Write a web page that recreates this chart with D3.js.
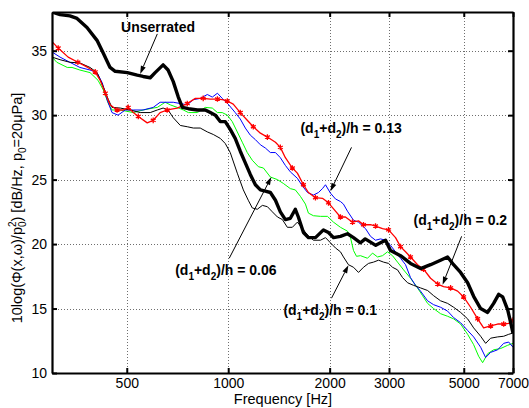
<!DOCTYPE html>
<html><head><meta charset="utf-8">
<script src="https://cdn.jsdelivr.net/npm/d3@7"></script>
<style>
body{margin:0;background:#fff;}
svg{display:block;font-family:"Liberation Sans",Arial,Helvetica,sans-serif;}
</style></head><body>
<svg id="chart" width="529" height="408"></svg>
<script>
// Axis ticks
const xTicks = [500, 1000, 2000, 3000, 5000, 7000];
const yTicks = [10, 15, 20, 25, 30, 35];

// Wall-pressure spectra, [frequency Hz, dB/Hz]
const unserrated = [[300,38.0],[317,37.8],[339,37.7],[356,37.5],[381,36.8],[408,35.8],[426,34.8],[446,33.7],[462,33.4],[502,33.3],[537,33.1],[559,33.0],[587,32.9],[607,33.3],[641,33.9],[663,33.5],[687,32.6],[711,31.4],[731,30.6],[762,30.5],[810,30.4],[855,30.4],[885,30.2],[916,30.0],[947,29.5],[980,29.5],[1014,28.9],[1049,28.2],[1086,27.2],[1124,26.3],[1163,25.4],[1204,24.6],[1246,24.2],[1289,24.1],[1334,24.0],[1381,23.4],[1428,22.5],[1478,21.9],[1529,22.0],[1582,22.7],[1615,22.1],[1672,20.9],[1730,20.5],[1815,20.5],[1917,21.1],[1984,20.9],[2053,20.5],[2153,20.6],[2259,20.8],[2354,20.5],[2469,20.1],[2550,20.4],[2644,20.15],[2740,19.9],[2831,20.1],[2930,20.3],[3031,19.5],[3246,19.1],[3475,18.5],[3722,18.1],[3985,18.4],[4267,18.75],[4477,19.0],[4665,18.4],[4893,17.8],[5134,17.0],[5349,15.95],[5611,15.0],[5887,14.7],[6133,15.4],[6347,16.1],[6523,15.9],[6751,14.9],[6890,13.9],[7000,13.1]];

const ratio006 = [[300,34.5],[310,34.1],[333,33.7],[344,33.7],[363,33.5],[389,33.3],[411,32.7],[426,31.95],[441,30.9],[452,30.4],[478,30.4],[523,30.2],[559,30.4],[599,30.55],[616,30.6],[650,31.0],[673,30.8],[706,30.6],[736,30.4],[762,30.2],[810,30.2],[855,30.6],[897,30.55],[929,30.2],[960,30.2],[994,30.0],[1028,29.5],[1064,28.7],[1101,27.9],[1139,27.1],[1179,26.5],[1229,26.0],[1272,25.9],[1334,25.2],[1400,25.0],[1458,24.7],[1529,24.3],[1582,24.2],[1638,23.7],[1695,23.1],[1730,22.4],[1790,22.2],[1878,22.15],[1970,22.15],[2053,21.7],[2153,21.3],[2259,21.0],[2306,20.5],[2354,19.5],[2403,19.05],[2469,19.1],[2590,18.9],[2681,19.3],[2774,19.0],[2870,19.1],[2970,19.4],[3073,19.1],[3180,18.6],[3314,18.0],[3475,17.35],[3646,16.6],[3773,16.0],[3905,15.4],[4068,15.0],[4267,14.6],[4477,14.4],[4665,14.2],[4893,13.8],[5134,13.0],[5349,12.2],[5535,11.3],[5688,10.8],[5887,11.5],[6133,11.8],[6434,11.9],[6751,12.15],[7000,12.3]];

const ratio01 = [[300,34.5],[317,34.3],[339,34.1],[363,34.05],[389,33.7],[408,33.3],[426,32.2],[441,31.2],[452,30.6],[478,30.55],[512,30.4],[548,30.2],[587,30.2],[616,30.4],[641,30.55],[663,30.4],[687,29.8],[721,29.2],[756,29.1],[788,29.0],[826,29.0],[867,28.7],[903,28.5],[947,28.2],[980,27.8],[1014,27.1],[1064,25.5],[1109,24.2],[1147,23.4],[1179,22.8],[1220,22.7],[1263,23.0],[1307,22.9],[1352,22.5],[1400,22.1],[1448,21.9],[1498,21.3],[1550,21.3],[1604,21.7],[1661,21.2],[1719,20.7],[1790,20.3],[1878,20.3],[1944,20.5],[2011,20.1],[2081,19.7],[2153,19.4],[2198,19.0],[2274,18.4],[2354,18.2],[2436,17.8],[2520,18.2],[2608,18.5],[2699,18.6],[2793,18.75],[2890,18.6],[2991,18.5],[3073,18.2],[3180,18.0],[3291,17.4],[3406,17.0],[3547,16.8],[3722,16.6],[3905,16.4],[4068,16.0],[4267,15.6],[4477,15.4],[4665,15.1],[4893,14.7],[5134,14.2],[5349,13.5],[5611,12.85],[5807,12.3],[6008,12.7],[6304,12.8],[6568,12.85],[6797,13.0],[7000,13.1]];

const ratio013 = [[300,34.9],[317,34.5],[339,34.1],[363,33.7],[389,33.5],[408,33.3],[423,32.5],[437,31.2],[452,30.2],[471,30.0],[495,30.4],[523,30.4],[559,30.4],[599,30.6],[628,31.0],[687,31.0],[721,30.9],[756,30.8],[788,31.2],[826,31.3],[867,31.6],[897,31.4],[929,31.7],[960,31.3],[1000,30.85],[1049,30.2],[1086,29.7],[1124,29.0],[1163,28.45],[1204,28.1],[1246,27.7],[1289,27.45],[1334,27.1],[1381,27.1],[1428,26.7],[1478,26.1],[1529,25.6],[1604,25.1],[1661,24.5],[1719,24.0],[1790,23.8],[1853,24.0],[1904,24.3],[1944,24.6],[2011,23.95],[2081,23.5],[2153,23.3],[2198,23.1],[2259,22.55],[2354,21.85],[2436,21.7],[2555,21.2],[2644,20.6],[2736,20.3],[2831,20.4],[2930,20.3],[3031,19.9],[3137,19.4],[3246,18.9],[3359,18.4],[3475,17.4],[3596,16.8],[3722,16.35],[3905,15.6],[4068,15.3],[4267,15.1],[4477,14.8],[4665,14.3],[4893,13.9],[5134,13.3],[5349,12.8],[5611,12.0],[5807,11.2],[6008,11.6],[6304,11.8],[6568,12.3],[6797,12.4],[7000,12.0]];

const ratio02 = [[300,35.7],[313,35.2],[335,34.5],[358,34.1],[383,33.7],[403,33.35],[417,32.7],[432,31.7],[446,30.8],[468,30.4],[488,30.4],[505,30.6],[523,30.2],[541,29.9],[575,29.4],[599,29.6],[628,30.2],[659,30.4],[706,30.55],[756,30.9],[799,31.3],[843,31.3],[885,31.25],[929,31.25],[960,31.2],[994,31.1],[1035,30.85],[1086,30.2],[1139,29.6],[1187,29.1],[1246,28.6],[1307,28.3],[1381,27.9],[1428,27.5],[1478,26.7],[1550,25.9],[1604,25.5],[1672,24.6],[1730,24.0],[1815,23.6],[1904,23.55],[1984,23.2],[2081,22.55],[2153,22.1],[2228,22.1],[2338,21.7],[2436,21.8],[2520,21.5],[2644,21.5],[2736,21.4],[2870,21.2],[2991,21.1],[3137,20.5],[3246,19.8],[3359,19.4],[3475,19.0],[3646,18.4],[3799,18.05],[3985,17.35],[4181,16.9],[4356,16.7],[4570,16.6],[4795,16.35],[4995,15.9],[5240,15.1],[5498,14.2],[5728,13.5],[6008,13.65],[6304,13.8],[6568,13.8],[6797,13.85],[7000,14.1]];

// Line styles, drawn back to front
const series = [
  {values: ratio006, color: "#00ff00", width: 1},
  {values: ratio013, color: "#0000ff", width: 1},
  {values: ratio01, color: "#000000", width: 1},
  {values: ratio02, color: "#ff0000", width: 1.3, markers: true},
  {values: unserrated, color: "#000000", width: 3.4}
];

// Callouts: label anchor, arrow tail and arrow tip in data units
const callouts = [
  {parts: [["Unserrated"]], at: [481, 36.45], tail: [616, 36.3], tip: [548, 33.2]},
  {parts: [["(d"], ["1", "sub"], ["+d"], ["2", "sub"], [")/h = 0.13"]], at: [1638, 28.6], tail: [2322, 27.5], tip: [2011, 24.1]},
  {parts: [["(d"], ["1", "sub"], ["+d"], ["2", "sub"], [")/h = 0.2"]], at: [3547, 21.47], tail: [4927, 20.6], tip: [4326, 16.85]},
  {parts: [["(d"], ["1", "sub"], ["+d"], ["2", "sub"], [")/h = 0.06"]], at: [696, 17.59], tail: [1007, 18.9], tip: [1343, 25.2]},
  {parts: [["(d"], ["1", "sub"], ["+d"], ["2", "sub"], [")/h = 0.1"]], at: [1458, 14.48], tail: [2025, 15.8], tip: [2274, 18.36]}
];

const W = 529, H = 408;
const m = {left: 52, right: 16, top: 12, bottom: 35};
const svg = d3.select("#chart");

const x = d3.scaleLog().domain([300, 7000]).range([m.left, W - m.right]);
const y = d3.scaleLinear().domain([10, 38]).range([H - m.bottom, m.top]);

svg.append("defs").append("clipPath").attr("id", "plotClip")
  .append("rect").attr("x", m.left).attr("y", m.top)
  .attr("width", W - m.left - m.right).attr("height", H - m.top - m.bottom);

// Dotted grid
const grid = svg.append("g").attr("stroke", "#6e6e6e").attr("stroke-width", 1).attr("stroke-dasharray", "1,2");
grid.selectAll("line.vx").data(xTicks.filter(d => d < 7000)).join("line")
  .attr("x1", d => Math.round(x(d)) + 0.5).attr("x2", d => Math.round(x(d)) + 0.5)
  .attr("y1", m.top).attr("y2", H - m.bottom);
grid.selectAll("line.hy").data(yTicks.filter(d => d > 10)).join("line")
  .attr("y1", d => Math.round(y(d)) + 0.5).attr("y2", d => Math.round(y(d)) + 0.5)
  .attr("x1", m.left).attr("x2", W - m.right);

// Spectra
const line = d3.line().x(d => x(d[0])).y(d => y(d[1]));
const plot = svg.append("g").attr("clip-path", "url(#plotClip)");
series.forEach(s => {
  plot.append("path").datum(s.values)
    .attr("fill", "none").attr("stroke", s.color).attr("stroke-width", s.width)
    .attr("stroke-linejoin", "round").attr("d", line);
  if (s.markers) {
    const sym = d3.symbol(d3.symbolAsterisk, 22);
    plot.append("g").selectAll("path").data(s.values.filter((d, i) => i % 2 === 1)).join("path")
      .attr("transform", d => `translate(${x(d[0])},${y(d[1])})`)
      .attr("d", sym).attr("fill", "none").attr("stroke", s.color).attr("stroke-width", 1.3);
  }
});

// Axes box with inward ticks on all four sides
const fmt = d3.format("d");
const axB = svg.append("g").attr("transform", `translate(0,${H - m.bottom})`)
  .call(d3.axisBottom(x).tickValues(xTicks).tickFormat(fmt).tickSizeInner(-5).tickSizeOuter(0).tickPadding(5));
const axT = svg.append("g").attr("transform", `translate(0,${m.top})`)
  .call(d3.axisTop(x).tickValues(xTicks).tickFormat("").tickSizeInner(-5).tickSizeOuter(0));
const axL = svg.append("g").attr("transform", `translate(${m.left},0)`)
  .call(d3.axisLeft(y).tickValues(yTicks).tickFormat(fmt).tickSizeInner(-5).tickSizeOuter(0).tickPadding(5));
const axR = svg.append("g").attr("transform", `translate(${W - m.right},0)`)
  .call(d3.axisRight(y).tickValues(yTicks).tickFormat("").tickSizeInner(-5).tickSizeOuter(0));
[axB, axT, axL, axR].forEach(a => {
  a.select(".domain").attr("stroke", "#000").attr("stroke-width", 2.2);
  a.selectAll(".tick line").attr("stroke", "#000").attr("stroke-width", 2);
  a.selectAll(".tick text").attr("fill", "#000").attr("font-size", 14).attr("font-family", "Liberation Sans, Arial, sans-serif");
});

// Axis titles
svg.append("text").attr("x", (x(300) + x(7000)) / 2 + 0.5).attr("y", 404)
  .attr("text-anchor", "middle").attr("font-size", 14.5).text("Frequency [Hz]");

const yl = svg.append("text").attr("transform", "translate(22,208) rotate(-90)")
  .attr("text-anchor", "middle").attr("font-size", 14.5);
yl.append("tspan").text("10log(\u03a6(x,\u03c9)/p");
yl.append("tspan").attr("font-size", 10).attr("dy", 4).text("0");
yl.append("tspan").attr("font-size", 10).attr("dx", -5.6).attr("dy", -10).text("2");
yl.append("tspan").attr("dy", 6).text(") [dB/Hz,  p");
yl.append("tspan").attr("font-size", 10).attr("dy", 4).text("0");
yl.append("tspan").attr("dy", -4).text("=20\u03bcPa]");

// Callouts with arrows
const ann = svg.append("g");
callouts.forEach(c => {
  const t = ann.append("text").attr("x", x(c.at[0])).attr("y", y(c.at[1]))
    .attr("font-size", 14).attr("font-weight", "bold");
  let shifted = false;
  c.parts.forEach(p => {
    const ts = t.append("tspan").text(p[0]);
    if (p[1] === "sub") { ts.attr("font-size", 10).attr("dy", 5); shifted = true; }
    else if (shifted) { ts.attr("dy", -5); shifted = false; }
  });
  const x1 = x(c.tail[0]), y1 = y(c.tail[1]), x2 = x(c.tip[0]), y2 = y(c.tip[1]);
  const ang = Math.atan2(y2 - y1, x2 - x1), L = 8, hw = 2.6;
  const bx = x2 - L * Math.cos(ang), by = y2 - L * Math.sin(ang);
  ann.append("line").attr("x1", x1).attr("y1", y1).attr("x2", bx).attr("y2", by)
    .attr("stroke", "#000").attr("stroke-width", 1);
  ann.append("path")
    .attr("d", `M${x2},${y2}L${bx + hw * Math.sin(ang)},${by - hw * Math.cos(ang)}L${bx - hw * Math.sin(ang)},${by + hw * Math.cos(ang)}Z`)
    .attr("fill", "#000");
});
</script>
</body></html>
